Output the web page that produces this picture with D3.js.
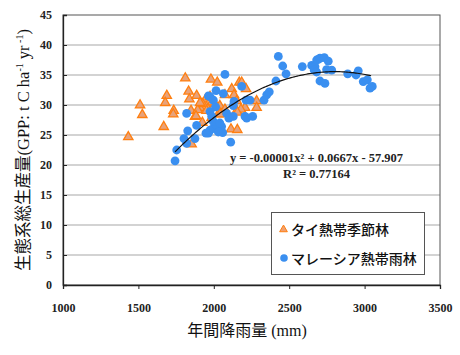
<!DOCTYPE html>
<html><head><meta charset="utf-8">
<script src="https://cdn.jsdelivr.net/npm/d3@7/dist/d3.min.js"></script>
<style>
body{margin:0;background:#fff;}
svg{display:block;}
</style></head>
<body>
<svg id="chart" width="460" height="355"></svg>
<script>
// ---- data ----
const thaiRain = [1433,1511,1526,1668,1688,1678,1734,1731,1811,1833,1838,1886,1849,1875,1853,1981,2023,1946,1908,1926,1964,1893,1924,2008,1990,1975,1960,2040,2074,2119,2134,2169,2185,2214,2284,2284,2207,2152,2152,2114,2156,2019,2030,1952,2180,2156,2074,2041,1909,1985,1882];
const thaiGPP  = [24.8,30.1,28.5,26.5,31.7,30.5,29.2,28.6,34.6,32.4,31.1,31.7,29.2,28.2,23.6,34.4,33.9,31.1,29.7,30.3,30.3,29.3,27.2,30.3,30.6,31.5,29.5,30.0,31.8,32.8,31.8,33.9,33.9,32.8,30.8,29.7,29.7,30.8,29.2,26.1,26.0,29.7,28.6,29.2,29.4,28.9,29.4,28.6,30.5,28.0,28.3];
const malayRain = [1743,1754,1802,1820,1827,1820,1875,1886,1948,1964,1975,1997,2052,2059,2010,2030,2112,1964,1975,1997,2015,2012,1975,1986,1995,2063,2074,2085,2129,2129,2134,2185,2214,2240,2207,2218,2258,2333,2351,2368,2412,2428,2457,2479,2587,2649,2671,2682,2693,2704,2733,2759,2666,2682,2748,2782,2704,2737,2888,2943,2958,2991,3018,3036,3051,2040,2100];
const malayGPP  = [20.7,22.5,24.4,23.6,25.7,28.6,24.4,26.6,25.3,25.3,25.8,26.1,26.4,25.4,26.8,25.5,23.8,31.5,31.4,30.8,32.4,29.7,28.9,28.1,27.3,31.9,35.1,28.6,28.1,29.9,30.6,33.1,30.8,30.8,28.1,27.8,28.1,30.8,31.7,32.2,34.0,38.1,36.5,35.2,36.4,36.6,36.4,37.5,37.6,37.8,37.9,37.3,35.8,35.5,35.9,35.8,34.0,33.6,35.2,35.0,35.7,33.9,34.2,32.8,33.1,27.0,27.8];
const xTicks = [1000,1500,2000,2500,3000,3500];
const yTicks = [0,5,10,15,20,25,30,35,40,45];
const trendCoef = [-0.0000119, 0.0667, -57.907]; // a, b, c (fitted curve)
const trendRange = [1743, 3047];
const seriesNames = ["タイ熱帯季節林","マレーシア熱帯雨林"];
const eqText = "y = -0.00001x² + 0.0667x - 57.907";
const r2Text = "R² = 0.77164";

// ---- layout ----
const svg = d3.select("#chart");
const L=63, R=440, T=15, B=285;
const x = d3.scaleLinear().domain([1000,3500]).range([L,R]);
const y = d3.scaleLinear().domain([0,45]).range([B,T]);
const serif = "'Liberation Serif','Times New Roman',serif";
const cjk = "'Noto Sans CJK JP','Noto Sans CJK SC',sans-serif";

// gridlines
svg.append("g").selectAll("line").data(yTicks.filter(d=>d>0&&d<45)).join("line")
  .attr("x1",L).attr("x2",R).attr("y1",d=>y(d)).attr("y2",d=>y(d))
  .attr("stroke","#c4c4c4").attr("stroke-width",1.5);

// frame
svg.append("rect").attr("x",L).attr("y",T).attr("width",R-L).attr("height",B-T)
  .attr("fill","none").attr("stroke","#555").attr("stroke-width",1);

// axes
const xAxis = svg.append("g").attr("transform",`translate(0,${B})`)
  .call(d3.axisBottom(x).tickValues(xTicks).tickSize(4).tickPadding(14).tickFormat(d3.format("d")));
const yAxis = svg.append("g").attr("transform",`translate(${L},0)`)
  .call(d3.axisLeft(y).tickValues(yTicks).tickSize(-4).tickPadding(11).tickFormat(d3.format("d")));
[xAxis,yAxis].forEach(g=>{
  g.select(".domain").attr("stroke","#222").attr("stroke-width",1.3);
  g.selectAll(".tick line").attr("stroke","#222");
  g.selectAll("text").attr("font-family",serif).attr("font-weight","bold").attr("font-size",12).attr("fill","#222");
});

// points
const thai = thaiRain.map((r,i)=>({r, g:thaiGPP[i]}));
const malay = malayRain.map((r,i)=>({r, g:malayGPP[i]}));
const tri = d3.symbol().type(d3.symbolTriangle).size(38);
svg.append("g").selectAll("path").data(thai).join("path")
  .attr("d",tri).attr("transform",d=>`translate(${x(d.r)},${y(d.g)+0.8})`)
  .attr("fill","#e8a27a").attr("stroke","#ff7f10").attr("stroke-width",1.3);
svg.append("g").selectAll("circle").data(malay).join("circle")
  .attr("cx",d=>x(d.r)).attr("cy",d=>y(d.g)).attr("r",4.4)
  .attr("fill","#3a8ff0");

// trendline
const trendX = d3.range(trendRange[0], trendRange[1]+1, 10);
const line = d3.line().x(d=>x(d)).y(d=>y(trendCoef[0]*d*d+trendCoef[1]*d+trendCoef[2]));
svg.append("path").attr("d",line(trendX)).attr("fill","none").attr("stroke","#111").attr("stroke-width",1.2);

// equation
const eqX = 316.5;
svg.append("text").attr("x",eqX).attr("y",162).attr("text-anchor","middle")
  .attr("font-family",serif).attr("font-weight","bold").attr("font-size",12.5).attr("fill","#222").text(eqText);
svg.append("text").attr("x",eqX).attr("y",177.5).attr("text-anchor","middle")
  .attr("font-family",serif).attr("font-weight","bold").attr("font-size",12.5).attr("fill","#222").text(r2Text);

// legend
const lg = svg.append("g");
lg.append("rect").attr("x",271.5).attr("y",212.5).attr("width",153).attr("height",62)
  .attr("fill","#fff").attr("stroke","#555").attr("stroke-width",1);
lg.append("path").attr("d",d3.symbol().type(d3.symbolTriangle).size(26)).attr("transform","translate(283.5,229.5)")
  .attr("fill","#f0a070").attr("stroke","#ff7f10").attr("stroke-width",1);
lg.append("circle").attr("cx",284).attr("cy",258).attr("r",3.8).attr("fill","#3a8ff0");
lg.selectAll("text").data(seriesNames).join("text")
  .attr("x",291).attr("y",(d,i)=>234.5+i*29)
  .attr("font-family",cjk).attr("font-size",14).attr("font-weight",500).attr("fill","#111").text(d=>d);

// x title
const xt = svg.append("text").attr("x",247).attr("y",336).attr("text-anchor","middle").attr("fill","#111");
xt.append("tspan").attr("font-family",cjk).attr("font-size",16).text("年間降雨量");
xt.append("tspan").attr("font-family",serif).attr("font-size",16).text(" (mm)");

// y title
const yt = svg.append("text").attr("transform","translate(29,150) rotate(-90)").attr("text-anchor","middle").attr("fill","#111");
yt.append("tspan").attr("font-family",cjk).attr("font-size",16.5).text("生態系総生産量");
yt.append("tspan").attr("font-family",serif).attr("font-size",16.5).text("(GPP: t C ha");
yt.append("tspan").attr("font-family",serif).attr("font-size",10).attr("dy",-6).text("-1");
yt.append("tspan").attr("font-family",serif).attr("font-size",16.5).attr("dy",6).text(" yr");
yt.append("tspan").attr("font-family",serif).attr("font-size",10).attr("dy",-6).text(" -1");
yt.append("tspan").attr("font-family",serif).attr("font-size",16.5).attr("dy",6).text(")");
</script>
</body></html>
